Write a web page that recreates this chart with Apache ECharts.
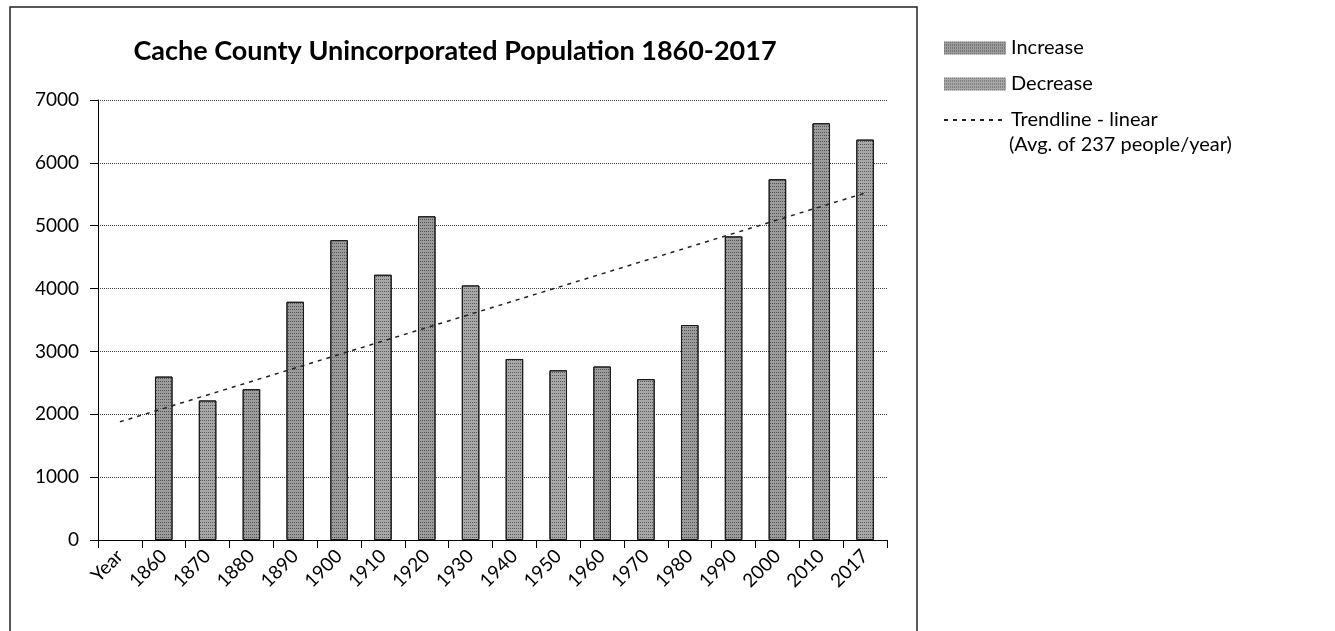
<!DOCTYPE html>
<html>
<head>
<meta charset="utf-8">
<script src="https://cdn.jsdelivr.net/npm/echarts@6/dist/echarts.min.js"></script>
<style>
html,body{margin:0;padding:0;background:#fff;}
#main{width:1335px;height:631px;}
</style>
</head>
<body>
<div id="main"></div>
<script>
var categories = ['Year','1860','1870','1880','1890','1900','1910','1920','1930','1940','1950','1960','1970','1980','1990','2000','2010','2017'];
var increase = [null, 2600, null, 2400, 3790, 4770, null, 5150, null, null, null, 2760, null, 3420, 4830, 5740, 6630, null];
var decrease = [null, null, 2220, null, null, null, 4220, null, 4050, 2880, 2700, null, 2560, null, null, null, null, 6370];
var trend = [1880, null, null, null, null, null, null, null, null, null, null, null, null, null, null, null, null, 5520];
var yTicks = [0, 1000, 2000, 3000, 4000, 5000, 6000, 7000];

var FONT = 'Lato, "Open Sans", sans-serif';
var chart = echarts.init(document.getElementById('main'));
var barStyle = {
  color: '#9c9c9c',
  borderColor: '#1a1a1a',
  borderWidth: 1,
  decal: {
    symbol: 'rect',
    symbolSize: 1,
    color: 'rgba(20,20,20,0.55)',
    dashArrayX: [1, 1],
    dashArrayY: [1, 2],
    rotation: 0
  }
};
var option = {
  animation: false,
  textStyle: {fontFamily: FONT, color: '#000'},
  title: {
    text: 'Cache County Unincorporated Population 1860-2017',
    left: 450, top: 33, textAlign: 'center',
    textStyle: {fontFamily: FONT, fontSize: 27, fontWeight: 'bold', color: '#000'}
  },
  legend: {
    orient: 'vertical',
    left: 938, top: 33,
    itemWidth: 62, itemHeight: 13, itemGap: 16,
    textStyle: {fontFamily: FONT, fontSize: 20, color: '#000'},
    itemStyle: {borderWidth: 0},
    data: [
      {name: 'Increase', icon: 'rect'},
      {name: 'Decrease', icon: 'rect'},
      {name: 'Trendline - linear', itemStyle: {opacity: 0}}
    ]
  },
  graphic: [
    {type: 'rect', shape: {x: 10, y: 7, width: 907, height: 640}, style: {fill: 'none', stroke: '#222', lineWidth: 1.5}, silent: true},
    {type: 'text', left: 1009, top: 135, style: {text: '(Avg. of 237 people/year)', font: '20px ' + FONT, fill: '#000'}}
  ],
  grid: {left: 98, right: 448, top: 100, bottom: 91, containLabel: false},
  xAxis: {
    type: 'category',
    data: categories,
    boundaryGap: true,
    axisLine: {show: true, lineStyle: {color: '#000', width: 1}},
    axisTick: {show: true, length: 8, interval: 0, lineStyle: {color: '#000'}},
    axisLabel: {interval: 0, rotate: 45, fontSize: 19, color: '#000', margin: 13, fontFamily: FONT}
  },
  yAxis: {
    type: 'value',
    min: 0, max: 7000, interval: 1000,
    axisLine: {show: true, lineStyle: {color: '#000', width: 1}},
    axisTick: {show: true, length: 8, lineStyle: {color: '#000'}},
    axisLabel: {fontSize: 19, color: '#000', margin: 19, fontFamily: FONT,
      formatter: function (v) { return yTicks.indexOf(v) >= 0 ? String(v) : ''; }},
    splitLine: {show: true, lineStyle: {color: '#444', width: 1, type: 'dotted'}}
  },
  series: [
    {name: 'Increase', type: 'bar', stack: 'pop', data: increase, barWidth: '40%', itemStyle: barStyle},
    {name: 'Decrease', type: 'bar', stack: 'pop', data: decrease, barWidth: '40%',
      itemStyle: Object.assign({}, barStyle, {color: '#a8a8a8'})},
    {name: 'Trendline - linear', type: 'line', data: trend, connectNulls: true, symbol: 'none',
      lineStyle: {color: '#222', width: 1.5, type: [4, 5]}, itemStyle: {color: '#222'}, z: 5}
  ]
};
chart.setOption(option);
</script>
</body>
</html>
